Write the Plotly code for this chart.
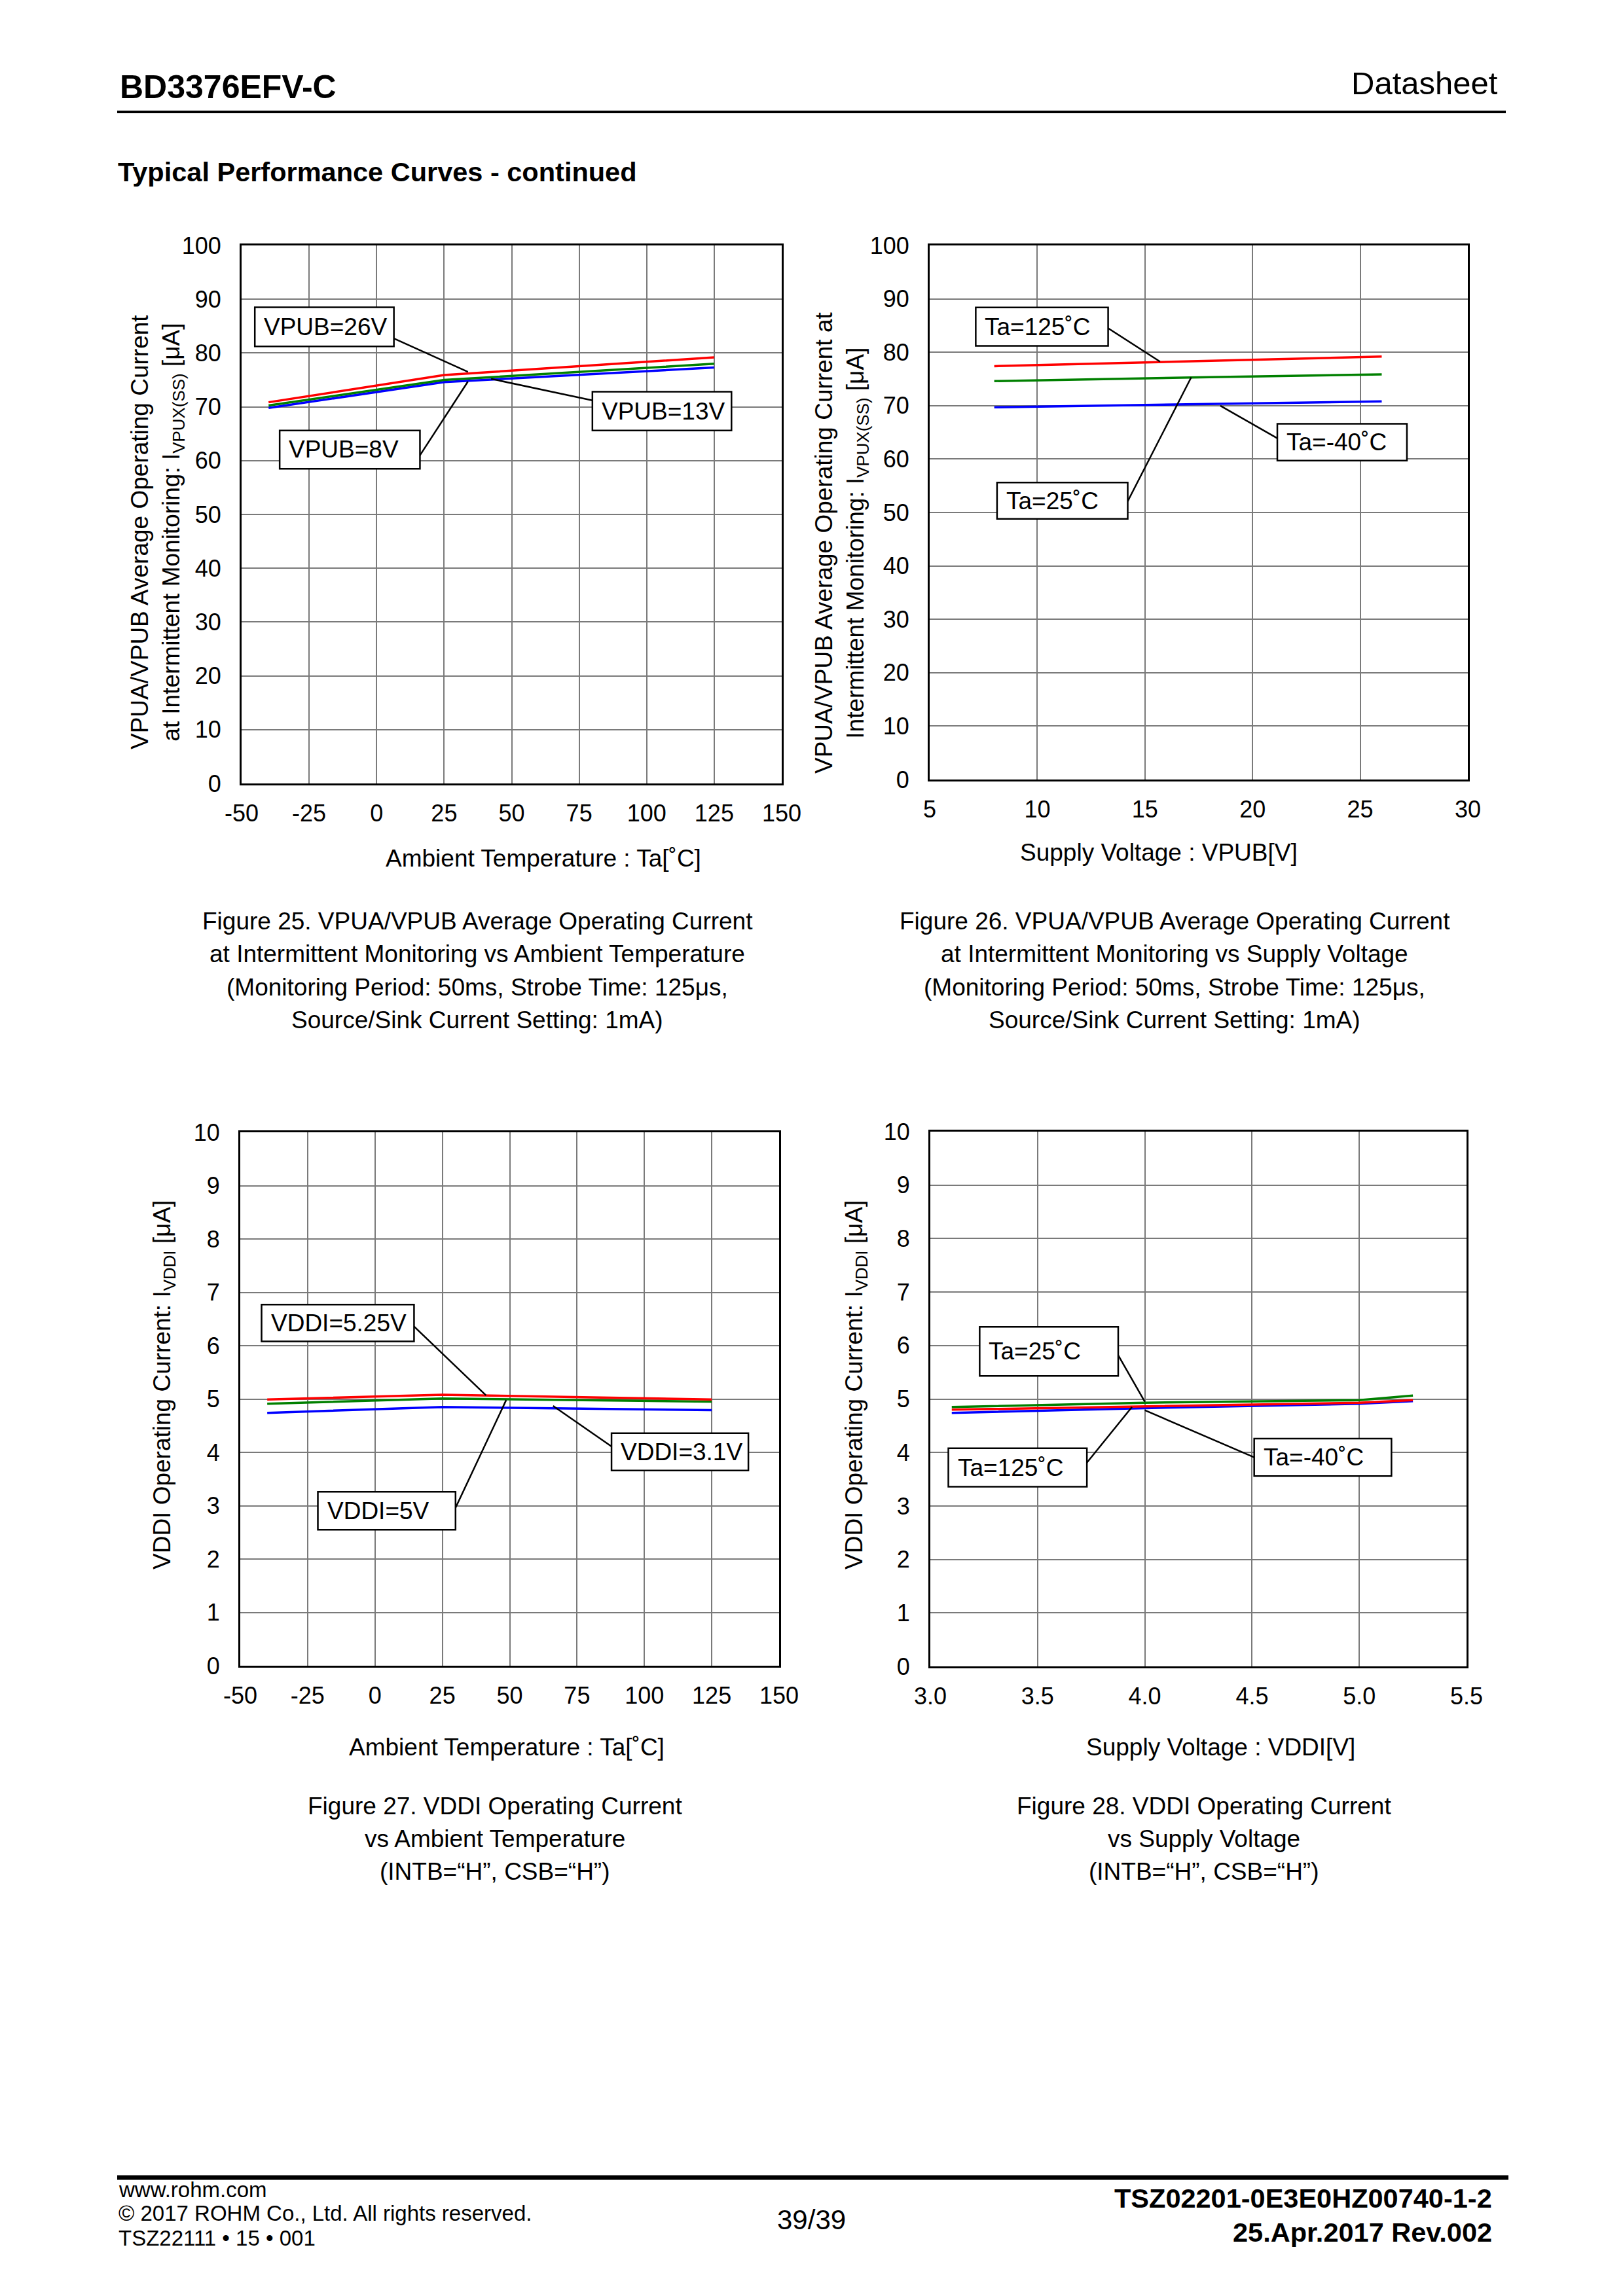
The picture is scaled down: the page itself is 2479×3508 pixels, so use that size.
import plotly.graph_objects as go

W, H = 2479, 3508
FONT = "Liberation Sans, Arial, sans-serif"

# ---------------- data ----------------
# Figure 25: VPUA/VPUB current vs ambient temperature
ta_f25 = [-40, 25, 125]
f25_vpub26 = [70.85, 75.9, 79.2]
f25_vpub13 = [70.25, 75.0, 78.0]
f25_vpub8 = [69.8, 74.6, 77.3]

# Figure 26: VPUA/VPUB current vs supply voltage VPUB
vpub_f26 = [8, 13, 18, 26]
f26_ta125 = [77.4, 77.9, 78.4, 79.2]
f26_ta25 = [74.6, 75.0, 75.35, 75.85]
f26_tam40 = [69.7, 70.0, 70.25, 70.8]

# Figure 27: VDDI current vs ambient temperature
ta_f27 = [-40, 25, 125]
f27_vddi525 = [4.99, 5.08, 4.99]
f27_vddi5 = [4.91, 5.01, 4.95]
f27_vddi31 = [4.74, 4.85, 4.79]

# Figure 28: VDDI current vs supply voltage VDDI
vddi_f28 = [3.1, 4.0, 5.0, 5.25]
f28_ta25 = [4.85, 4.93, 4.98, 5.065]
f28_ta125 = [4.80, 4.86, 4.93, 4.98]
f28_tam40 = [4.74, 4.83, 4.91, 4.96]

# tick labels
ticks_temp = [-50, -25, 0, 25, 50, 75, 100, 125, 150]
ticktext_temp = ["-50", "-25", "0", "25", "50", "75", "100", "125", "150"]
ticks_vpub = [5, 10, 15, 20, 25, 30]
ticktext_vpub = ["5", "10", "15", "20", "25", "30"]
ticks_vddi = [3.0, 3.5, 4.0, 4.5, 5.0, 5.5]
ticktext_vddi = ["3.0", "3.5", "4.0", "4.5", "5.0", "5.5"]
ticks_100 = [0, 10, 20, 30, 40, 50, 60, 70, 80, 90, 100]
ticks_10 = [0, 1, 2, 3, 4, 5, 6, 7, 8, 9, 10]

RED, GREEN, BLUE = "#ff0000", "#008000", "#0000ff"

fig = go.Figure()


def px_x(a, b):
    return [a / W, b / W]


def px_y(top, bottom):
    return [1 - bottom / H, 1 - top / H]


def add_line(xs, ys, color, ax):
    fig.add_trace(go.Scatter(x=xs, y=ys, mode="lines", line=dict(color=color, width=3.5),
                             xaxis="x" + ax, yaxis="y" + ax, showlegend=False, hoverinfo="skip"))


# Fig 25
add_line(ta_f25, f25_vpub8, BLUE, "")
add_line(ta_f25, f25_vpub13, GREEN, "")
add_line(ta_f25, f25_vpub26, RED, "")
# Fig 26
add_line(vpub_f26, f26_tam40, BLUE, "2")
add_line(vpub_f26, f26_ta25, GREEN, "2")
add_line(vpub_f26, f26_ta125, RED, "2")
# Fig 27
add_line(ta_f27, f27_vddi31, BLUE, "3")
add_line(ta_f27, f27_vddi5, GREEN, "3")
add_line(ta_f27, f27_vddi525, RED, "3")
# Fig 28
add_line(vddi_f28, f28_tam40, BLUE, "4")
add_line(vddi_f28, f28_ta125, RED, "4")
add_line(vddi_f28, f28_ta25, GREEN, "4")


def xaxis(domain, rng, ticks, text, anchor):
    return dict(domain=domain, range=rng, tickvals=ticks, ticktext=text, showgrid=True,
                gridcolor="#7a7a7a", gridwidth=1.5, zeroline=False, showline=True, mirror=True,
                linecolor="black", linewidth=3, ticks="", anchor=anchor, ticklabelstandoff=12,
                automargin=False,
                tickfont=dict(family=FONT, size=36, color="black"), fixedrange=True)


def yaxis(domain, rng, ticks, anchor):
    return dict(domain=domain, range=rng, tickvals=ticks, showgrid=True, gridcolor="#7a7a7a",
                gridwidth=1.5, zeroline=False, showline=True, mirror=True, linecolor="black",
                linewidth=3, ticks="", anchor=anchor, ticklabelstandoff=21, automargin=False,
                tickfont=dict(family=FONT, size=36, color="black"), fixedrange=True)


layout = dict(
    template="none", autosize=False,
    width=W, height=H, margin=dict(l=0, r=0, t=0, b=0, pad=0, autoexpand=False),
    paper_bgcolor="white", plot_bgcolor="white", hovermode=False, showlegend=False,
    xaxis=xaxis(px_x(369, 1194), [-50, 150], ticks_temp, ticktext_temp, "y"),
    yaxis=yaxis(px_y(375, 1197), [0, 100], ticks_100, "x"),
    xaxis2=xaxis(px_x(1420, 2242), [5, 30], ticks_vpub, ticktext_vpub, "y2"),
    yaxis2=yaxis(px_y(375, 1191), [0, 100], ticks_100, "x2"),
    xaxis3=xaxis(px_x(367, 1190), [-50, 150], ticks_temp, ticktext_temp, "y3"),
    yaxis3=yaxis(px_y(1730, 2545), [0, 10], ticks_10, "x3"),
    xaxis4=xaxis(px_x(1421, 2240), [3.0, 5.5], ticks_vddi, ticktext_vddi, "y4"),
    yaxis4=yaxis(px_y(1729, 2546), [0, 10], ticks_10, "x4"),
)
fig.update_layout(**layout)

annotations = []
shapes = []


def ptext(text, x, y, size, xanchor="center", yanchor="middle", angle=0, bold=False):
    t = "<b>" + text + "</b>" if bold else text
    annotations.append(dict(text=t, x=x / W, y=1 - y / H, xref="paper", yref="paper",
                            xanchor=xanchor, yanchor=yanchor, showarrow=False, textangle=angle,
                            font=dict(family=FONT, size=size, color="black")))


def label(ax, text, bx0, bx1, by0, by1, p0, p1):
    xr = "x" + ax
    yr = "y" + ax
    shapes.append(dict(type="line", xref=xr, yref=yr, x0=p0[0], y0=p0[1], x1=p1[0], y1=p1[1],
                       line=dict(color="black", width=2.5), layer="above"))
    shapes.append(dict(type="rect", xref=xr, yref=yr, x0=bx0, x1=bx1, y0=by0, y1=by1,
                       fillcolor="white", line=dict(color="black", width=2.5), layer="above"))
    annotations.append(dict(text=text, x=bx0, y=(by0 + by1) / 2, xref=xr, yref=yr,
                            xanchor="left", yanchor="middle", xshift=12, showarrow=False,
                            font=dict(family=FONT, size=37, color="black")))


# Fig 25 labels
label("", "VPUB=26V", -45.1, 6.4, 81.25, 88.5, (6.4, 82.7), (33.8, 76.5))
label("", "VPUB=13V", 79.9, 131.4, 65.6, 72.8, (79.9, 71.2), (42.4, 75.2))
label("", "VPUB=8V", -35.9, 16.05, 58.5, 65.6, (16.05, 61.0), (33.8, 74.7))
# Fig 26 labels
label("2", "Ta=125˚C", 7.14, 13.29, 81.2, 88.4, (13.29, 84.5), (15.7, 78.25))
label("2", "Ta=-40˚C", 21.15, 27.17, 59.7, 66.6, (21.15, 63.9), (18.5, 70.0))
label("2", "Ta=25˚C", 8.13, 14.2, 48.8, 55.6, (14.2, 52.1), (17.15, 75.3))
# Fig 27 labels
label("3", "VDDI=5.25V", -42.1, 14.5, 6.08, 6.77, (14.5, 6.36), (41.2, 5.07))
label("3", "VDDI=3.1V", 87.8, 138.6, 3.66, 4.36, (87.8, 4.11), (66.1, 4.87))
label("3", "VDDI=5V", -21.2, 29.9, 2.55, 3.26, (29.9, 2.96), (48.7, 4.98))
# Fig 28 labels
label("4", "Ta=25˚C", 3.23, 3.876, 5.43, 6.35, (3.876, 5.82), (4.0, 4.95))
label("4", "Ta=125˚C", 3.084, 3.73, 3.36, 4.08, (3.73, 3.81), (3.94, 4.85))
label("4", "Ta=-40˚C", 4.51, 5.15, 3.56, 4.26, (4.51, 3.91), (4.0, 4.79))

# axis titles
ptext("VPUA/VPUB Average Operating Current<br>at Intermittent Monitoring: I<sub>VPUX(SS)</sub> [μA]",
      240, 813, 37, angle=-90)
ptext("VPUA/VPUB Average Operating Current at<br>Intermittent Monitoring: I<sub>VPUX(SS)</sub> [μA]",
      1285, 830, 37, angle=-90)
ptext("VDDI Operating Current: I<sub>VDDI</sub> [μA]", 250, 2116, 37, angle=-90)
ptext("VDDI Operating Current: I<sub>VDDI</sub> [μA]", 1307, 2116, 37, angle=-90)

ptext("Ambient Temperature : Ta[˚C]", 830, 1311, 37)
ptext("Supply Voltage : VPUB[V]", 1770, 1302, 37)
ptext("Ambient Temperature : Ta[˚C]", 774, 2669, 37)
ptext("Supply Voltage : VDDI[V]", 1864, 2669, 37)

# captions
cap25 = ["Figure 25. VPUA/VPUB Average Operating Current",
         "at Intermittent Monitoring vs Ambient Temperature",
         "(Monitoring Period: 50ms, Strobe Time: 125μs,",
         "Source/Sink Current Setting: 1mA)"]
cap26 = ["Figure 26. VPUA/VPUB Average Operating Current",
         "at Intermittent Monitoring vs Supply Voltage",
         "(Monitoring Period: 50ms, Strobe Time: 125μs,",
         "Source/Sink Current Setting: 1mA)"]
cap27 = ["Figure 27. VDDI Operating Current", "vs Ambient Temperature", "(INTB=“H”, CSB=“H”)"]
cap28 = ["Figure 28. VDDI Operating Current", "vs Supply Voltage", "(INTB=“H”, CSB=“H”)"]
for i, (a, b) in enumerate(zip(cap25, cap26)):
    yy = 1407 + i * 50.5
    ptext(a, 729, yy, 37)
    ptext(b, 1794, yy, 37)
for i, (a, b) in enumerate(zip(cap27, cap28)):
    yy = 2759 + i * 50
    ptext(a, 756, yy, 37)
    ptext(b, 1839, yy, 37)

# header
ptext("BD3376EFV-C", 181, 133, 50, xanchor="left", bold=True)
ptext("Datasheet", 2290, 127, 49, xanchor="right")
ptext("Typical Performance Curves - continued", 178, 262, 41.5, xanchor="left", bold=True)
shapes.append(dict(type="line", xref="paper", yref="paper", x0=179 / W, x1=2300 / W,
                   y0=1 - 171 / H, y1=1 - 171 / H, line=dict(color="black", width=4)))

# footer
shapes.append(dict(type="line", xref="paper", yref="paper", x0=179 / W, x1=2304 / W,
                   y0=1 - 3327 / H, y1=1 - 3327 / H, line=dict(color="black", width=7)))
ptext("www.rohm.com", 179, 3345, 33, xanchor="left")
ptext("© 2017 ROHM Co., Ltd. All rights reserved.", 179, 3381, 33, xanchor="left")
ptext("TSZ22111 • 15 • 001", 179, 3419, 33, xanchor="left")
ptext("39/39", 1240, 3391, 42)
ptext("TSZ02201-0E3E0HZ00740-1-2", 2281, 3358, 41.5, xanchor="right", bold=True)
ptext("25.Apr.2017 Rev.002", 2281, 3410, 41.5, xanchor="right", bold=True)

fig.update_layout(annotations=annotations, shapes=shapes)
fig.write_html("out.html", config={"displayModeBar": False},
               post_script="document.body.style.margin='0';document.body.style.overflow='hidden';")
